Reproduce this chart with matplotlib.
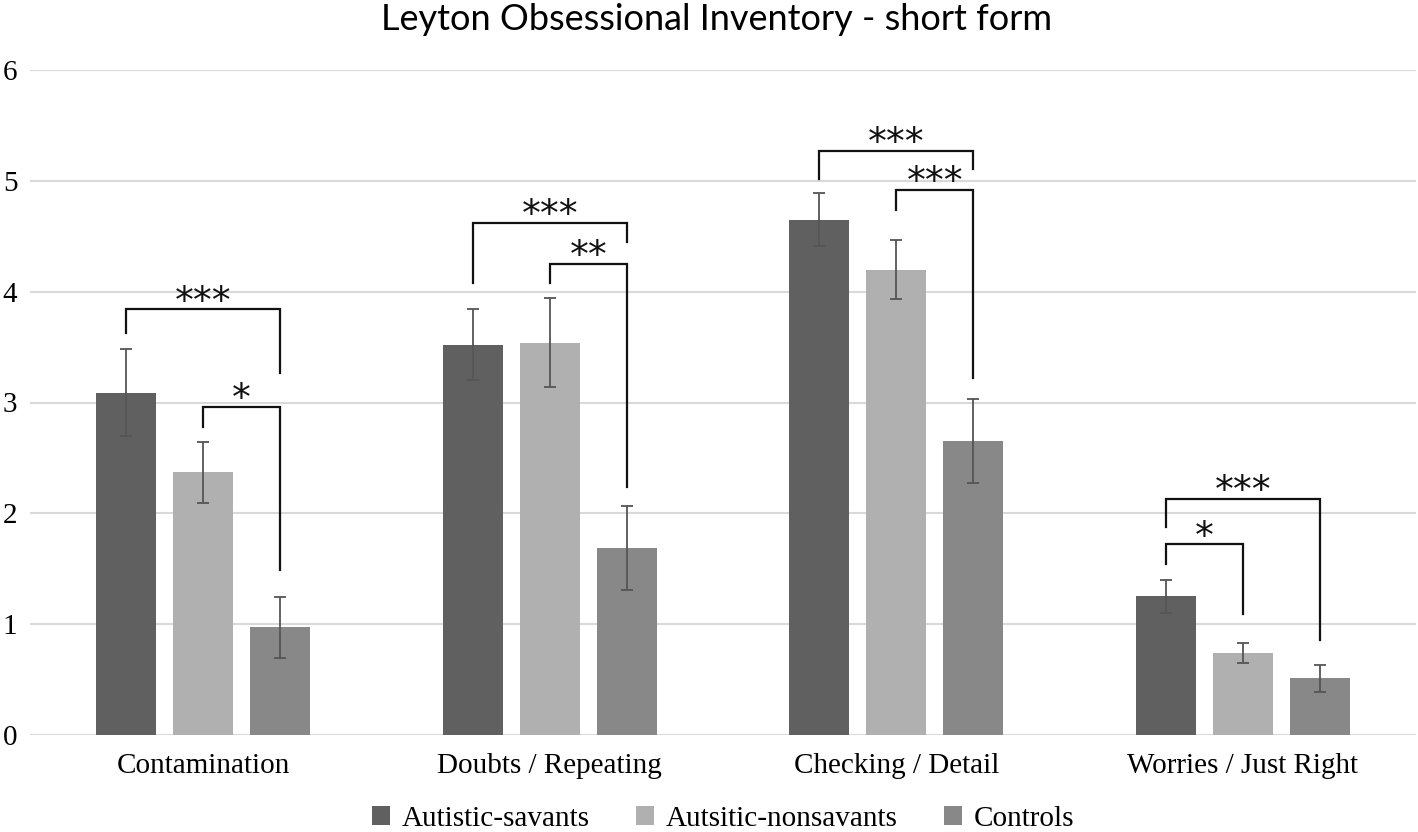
import numpy as np
import matplotlib
matplotlib.use("Agg")
import matplotlib.pyplot as plt

# categories and groups
categories = ["Contamination", "Doubts / Repeating", "Checking / Detail", "Worries / Just Right"]
groups = ["Autistic-savants", "Autsitic-nonsavants", "Controls"]

# means
savants = [3.09, 3.52, 4.65, 1.25]
nonsavants = [2.37, 3.54, 4.20, 0.74]
controls = [0.97, 1.69, 2.65, 0.51]

# error bar half lengths
savants_err = [0.39, 0.32, 0.24, 0.145]
nonsavants_err = [0.275, 0.40, 0.27, 0.09]
controls_err = [0.275, 0.38, 0.38, 0.12]

# significance brackets: category, bar a, bar b, top, left leg end, right leg end, label
brackets = [
    (0, 0, 2, 3.84, 3.63, 3.27, "***"),
    (0, 1, 2, 2.96, 2.78, 1.49, "*"),
    (1, 0, 2, 4.62, 4.08, 4.45, "***"),
    (1, 1, 2, 4.25, 4.08, 2.24, "**"),
    (2, 0, 2, 5.27, 5.02, 5.11, "***"),
    (2, 1, 2, 4.92, 4.74, 3.22, "***"),
    (3, 0, 2, 2.13, 1.88, 0.855, "***"),
    (3, 0, 1, 1.72, 1.54, 1.09, "*"),
]

colors = ["#606060", "#b0b0b0", "#888888"]
serif = "Liberation Serif"

fig = plt.figure(figsize=(14.18, 8.32), dpi=100)
ax = fig.add_axes([30 / 1418, 1 - 735 / 832, 1386 / 1418, 665 / 832])

x = np.arange(len(categories))
step = 0.2223
width = 0.1733
offsets = [-step, 0, step]

for vals, errs, col, off, name in zip([savants, nonsavants, controls],
                                      [savants_err, nonsavants_err, controls_err],
                                      colors, offsets, groups):
    ax.bar(x + off, vals, width, color=col, label=name, zorder=2)
    ax.errorbar(x + off, vals, yerr=errs, fmt="none", ecolor="#555555",
                elinewidth=1.3, capsize=4, capthick=1.3, zorder=3)

for cat, a, b, top, la, lb, lab in brackets:
    xa = x[cat] + offsets[a]
    xb = x[cat] + offsets[b]
    ax.plot([xa, xa, xb, xb], [la, top, top, lb], color="#111111", lw=1.6,
            zorder=4, solid_joinstyle="miter")
    ax.text((xa + xb) / 2, top + 0.06, lab, ha="center", va="center",
            fontsize=27, family="DejaVu Sans", color="#111111")

ax.set_xlim(-0.5, 3.5)
ax.set_ylim(0, 6)
ax.set_yticks(range(0, 7))
ax.set_xticks(x)
ax.set_xticklabels(categories, family=serif, fontsize=21)
for t in ax.get_yticklabels():
    t.set_family(serif)
    t.set_fontsize(21)
ax.tick_params(axis="both", length=0)
ax.tick_params(axis="x", pad=13)
ax.tick_params(axis="y", pad=9)
ax.grid(axis="y", color="#d9d9d9", lw=1.5, zorder=0)
ax.set_axisbelow(True)
for s in ax.spines.values():
    s.set_visible(False)

fig.text(717 / 1418, 1 - 19 / 832, "Leyton Obsessional Inventory - short form",
         ha="center", va="center", fontsize=26, family="Lato")

ax.legend(loc="center", bbox_to_anchor=(0.5, (735 - 819) / 665), ncol=3,
          frameon=False, prop={"family": serif, "size": 21},
          handlelength=0.62, handleheight=0.62, handletextpad=0.4,
          columnspacing=1.6, borderaxespad=0)

fig.savefig("out.png", dpi=100)
